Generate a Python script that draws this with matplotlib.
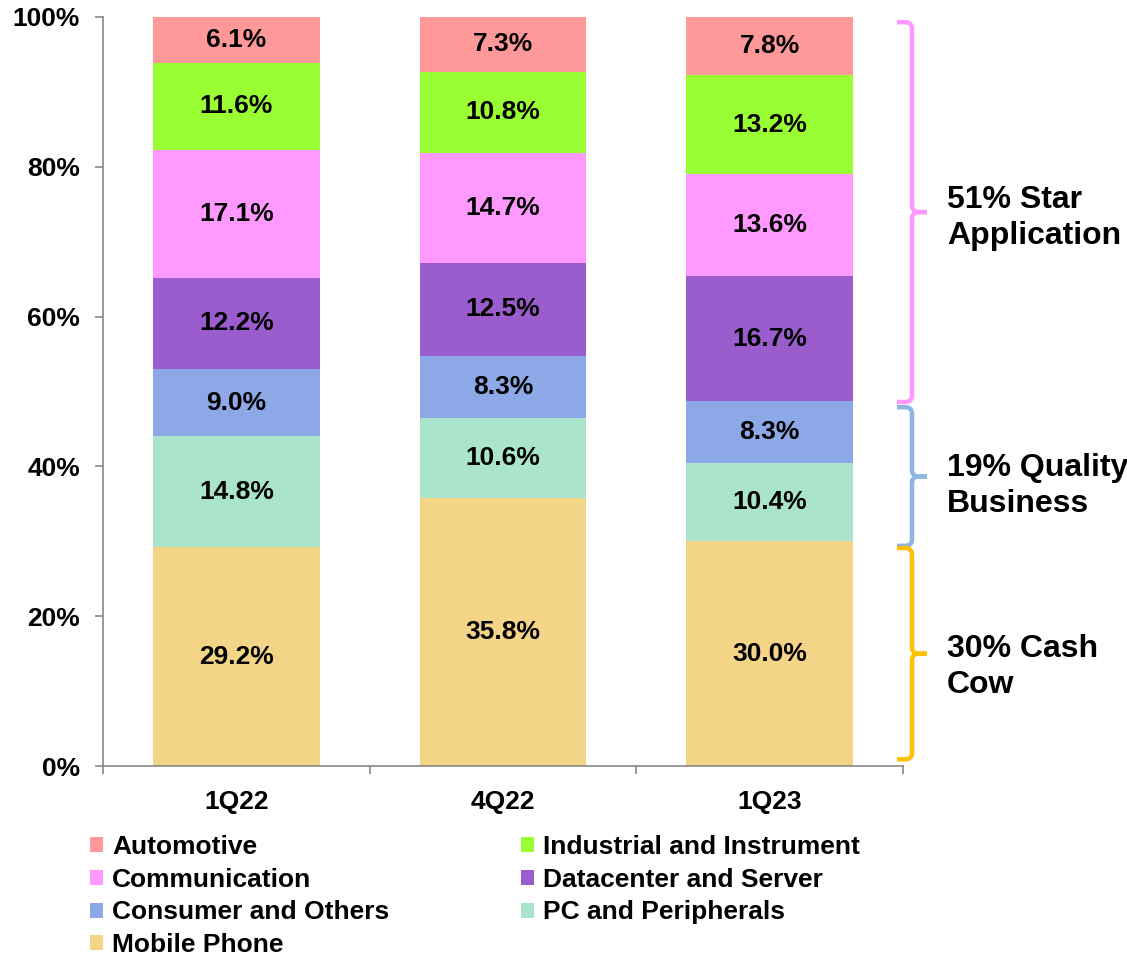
import matplotlib
matplotlib.use("Agg")
import matplotlib.pyplot as plt
import numpy as np
from matplotlib.patches import Patch

plt.rcParams['font.family'] = ['Liberation Sans', 'DejaVu Sans']
plt.rcParams['font.weight'] = 'bold'

quarters = ["1Q22", "4Q22", "1Q23"]
segments = ["Mobile Phone", "PC and Peripherals", "Consumer and Others",
            "Datacenter and Server", "Communication", "Industrial and Instrument", "Automotive"]
mobile = [29.2, 35.8, 30.0]
pc = [14.8, 10.6, 10.4]
consumer = [9.0, 8.3, 8.3]
datacenter = [12.2, 12.5, 16.7]
communication = [17.1, 14.7, 13.6]
industrial = [11.6, 10.8, 13.2]
automotive = [6.1, 7.3, 7.8]
series = [mobile, pc, consumer, datacenter, communication, industrial, automotive]
colors = ["#F4D486", "#A9E4CB", "#8CA8E6", "#9B5DCE", "#FF99FF", "#99FF33", "#FF9999"]

group_labels = ["51% Star\nApplication", "19% Quality\nBusiness", "30% Cash\nCow"]
group_low = [48.6, 29.4, 0.9]
group_high = [99.3, 47.9, 29.1]
group_colors = ["#FF99FF", "#8DB4E2", "#FFC000"]
label_y = [73.2, 37.4, 13.2]

FS = 19

fig = plt.figure(figsize=(11.27, 9.57), dpi=100)
ax = fig.add_axes([103/1127, 1-766/957, 800/1127, 749/957])

x = np.arange(len(quarters))
bottom = np.zeros(len(quarters))
for name, vals, c in zip(segments, series, colors):
    v = np.array(vals)
    ax.bar(x, v, 0.626, bottom=bottom, color=c, zorder=2)
    for xi, b, vi in zip(x, bottom, v):
        ax.text(xi, b + vi/2, f"{vi:.1f}%", ha='center', va='center',
                fontsize=FS, fontweight='bold', color='black', zorder=3)
    bottom += v

ax.set_xlim(-0.5, 2.5)
ax.set_ylim(0, 100)
ax.set_yticks(np.arange(0, 101, 20))
ax.set_yticklabels([f"{t}%" for t in range(0, 101, 20)])
ax.set_xticks(x)
ax.set_xticklabels(quarters)
ax.set_xticks([-0.5, 0.5, 1.5, 2.5], minor=True)
ax.tick_params(axis='x', which='major', length=0, pad=17, labelsize=FS)
ax.tick_params(axis='x', which='minor', length=6, width=1.2, color='#888888', direction='out')
ax.tick_params(axis='y', length=6, width=1.2, color='#888888', pad=10.5, labelsize=FS)
for lab in ax.get_xticklabels() + ax.get_yticklabels():
    lab.set_fontweight('bold')
for s in ['top', 'right']:
    ax.spines[s].set_visible(False)
for s in ['left', 'bottom']:
    ax.spines[s].set_color('#888888')
    ax.spines[s].set_linewidth(1.2)

# braces
pxx = 1/266.67
pxy = 100/749
xl = 2.5 + (897 - 903) * pxx
xm = 2.5 + (912 - 903) * pxx
xt = 2.5 + (927 - 903) * pxx
r = 6
def arc(cx, cy, a0, a1, n=8):
    t = np.linspace(np.radians(a0), np.radians(a1), n)
    return cx + r*pxx*np.cos(t), cy + r*pxy*np.sin(t)

for label, y0, y1, c, ly in zip(group_labels, group_low, group_high, group_colors, label_y):
    ym = (y0 + y1) / 2
    ax1x, ax1y = arc(xm - r*pxx, y1 - r*pxy, 90, 0)
    ax2x, ax2y = arc(xm + r*pxx, ym + r*pxy, 180, 270)
    xs = np.concatenate([[xl], ax1x, ax2x, [xt]])
    ys = np.concatenate([[y1], ax1y, ax2y, [ym]])
    ax.plot(xs, ys, color=c, lw=3.2, clip_on=False, solid_capstyle='butt', solid_joinstyle='round')
    bx1, by1 = arc(xm + r*pxx, ym - r*pxy, 90, 180)
    bx2, by2 = arc(xm - r*pxx, y0 + r*pxy, 0, -90)
    xs = np.concatenate([[xt], bx1, bx2, [xl]])
    ys = np.concatenate([[ym], by1, by2, [y0]])
    ax.plot(xs, ys, color=c, lw=3.2, clip_on=False, solid_capstyle='butt', solid_joinstyle='round')
    ax.text(2.5 + (947 - 903) * pxx, ly, label, ha='left', va='center',
            fontsize=23, fontweight='bold', linespacing=1.25, clip_on=False)

order = ["Automotive", "Communication", "Consumer and Others", "Mobile Phone",
         "Industrial and Instrument", "Datacenter and Server", "PC and Peripherals"]
cmap = dict(zip(segments, colors))
handles = [Patch(facecolor=cmap[n], edgecolor='none') for n in order]
fig.legend(handles, order, loc='upper left', bbox_to_anchor=(90/1127, 1-835/957),
           ncol=2, frameon=False, prop={'weight': 'bold', 'size': FS},
           handlelength=0.5, handleheight=0.5, handletextpad=0.33,
           labelspacing=0.33, columnspacing=5.0, borderpad=0, borderaxespad=0)

fig.savefig("out.png", dpi=100)
